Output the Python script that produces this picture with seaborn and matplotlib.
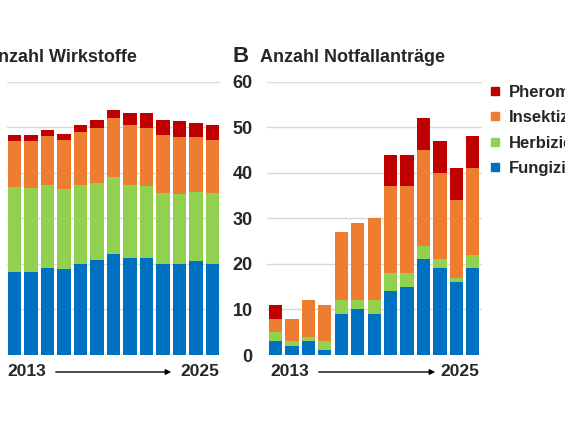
import numpy as np
import matplotlib
matplotlib.use("Agg")
import matplotlib.pyplot as plt
from matplotlib.lines import Line2D
import seaborn as sns

years = [str(y) for y in range(2013, 2026)]
series = ["Pheromone", "Insektizide", "Herbizide", "Fungizide"]
colors = {"Pheromone": "#c00000", "Insektizide": "#ed7d31",
          "Herbizide": "#92d050", "Fungizide": "#0070c0"}

# A: Anzahl Wirkstoffe (axis labels not visible in the crop, values estimated)
wirk_fungizide = [91, 91, 95, 94, 100, 104, 111, 106, 106, 100, 100, 103, 100]
wirk_herbizide = [93, 92, 92, 88, 87, 85, 84, 81, 80, 78, 77, 76, 78]
wirk_insektizide = [51, 52, 53, 54, 58, 60, 65, 65, 63, 63, 62, 60, 58]
wirk_pheromone = [6, 6, 7, 7, 8, 9, 9, 14, 17, 17, 18, 16, 16]

# B: Anzahl Notfallanträge
not_fungizide = [3, 2, 3, 1, 9, 10, 9, 14, 15, 21, 19, 16, 19]
not_herbizide = [2, 1, 1, 2, 3, 2, 3, 4, 3, 3, 2, 1, 3]
not_insektizide = [3, 5, 8, 8, 15, 17, 18, 19, 19, 21, 19, 17, 19]
not_pheromone = [3, 0, 0, 0, 0, 0, 0, 7, 7, 7, 7, 7, 7]

sns.set_theme(style="white")
plt.rcParams["font.family"] = ["Liberation Sans", "DejaVu Sans"]
plt.rcParams["font.weight"] = "bold"

W, H = 565, 430
fig = plt.figure(figsize=(W / 100, H / 100), dpi=100)


def px_axes(x0, x1, y_top, y_bot):
    return fig.add_axes([x0 / W, 1 - y_bot / H, (x1 - x0) / W, (y_bot - y_top) / H])


def stacked(ax, parts, ymax, xlim):
    # parts ordered bottom -> top: fungizide, herbizide, insektizide, pheromone
    cum = np.cumsum(np.array(parts), axis=0)
    names = ["Fungizide", "Herbizide", "Insektizide", "Pheromone"]
    for i in range(len(names) - 1, -1, -1):
        sns.barplot(x=years, y=cum[i], color=colors[names[i]], width=0.8,
                    saturation=1, linewidth=0, ax=ax, zorder=2)
    ax.set_ylim(0, ymax)
    ax.set_xlim(*xlim)
    ax.set_yticks(np.linspace(0, ymax, 7))
    ax.grid(axis="y", color="#d9d9d9", linewidth=1, zorder=0)
    ax.set_axisbelow(True)
    for s in ax.spines.values():
        s.set_visible(False)
    ax.set_xticks([])
    ax.set_xlabel("")
    ax.set_ylabel("")


ax_a = px_axes(7, 220, 81.7, 355)
stacked(ax_a, [wirk_fungizide, wirk_herbizide, wirk_insektizide, wirk_pheromone],
        300, (-0.46, 12.46))
ax_a.tick_params(axis="y", labelleft=False, length=0)

ax_b = px_axes(266.7, 481.7, 81.7, 355)
stacked(ax_b, [not_fungizide, not_herbizide, not_insektizide, not_pheromone],
        60, (-0.54, 12.54))
ax_b.tick_params(axis="y", labelsize=13, length=0, pad=10)
for lab in ax_b.get_yticklabels():
    lab.set_fontweight("bold")

# titles
fig.text(-30 / W, 1 - 57 / H, "A", fontsize=16, fontweight="bold", va="center")
fig.text(137 / W, 1 - 57 / H, "Anzahl Wirkstoffe", fontsize=13,
         fontweight="bold", va="center", ha="right")
fig.text(233 / W, 1 - 57 / H, "B", fontsize=16, fontweight="bold", va="center")
fig.text(260 / W, 1 - 57 / H, "Anzahl Notfallanträge", fontsize=13,
         fontweight="bold", va="center")

# time axis annotation
for x_l, x_a0, x_a1, x_r in [(7, 53, 174, 219), (270, 316, 438, 479)]:
    fig.text(x_l / W, 1 - 372 / H, "2013", fontsize=12.5, fontweight="bold",
             va="center", ha="left")
    fig.text(x_r / W, 1 - 372 / H, "2025", fontsize=12.5, fontweight="bold",
             va="center", ha="right")
    fig.add_artist(matplotlib.patches.FancyArrowPatch(
        (x_a0 / W, 1 - 372 / H), (x_a1 / W, 1 - 372 / H),
        transform=fig.transFigure, arrowstyle="-|>", mutation_scale=8,
        color="black", linewidth=1))

handles = [Line2D([], [], marker="s", linestyle="none", markersize=5.5,
                  color=colors[n]) for n in series]
fig.legend(handles, series, loc="upper left", bbox_to_anchor=(488 / W, 1 - 85 / H),
           frameon=False, handlelength=0.8, handletextpad=0.45,
           labelspacing=0.62, borderpad=0, borderaxespad=0,
           prop={"weight": "bold", "size": 12})

fig.savefig("out.png", dpi=100)
